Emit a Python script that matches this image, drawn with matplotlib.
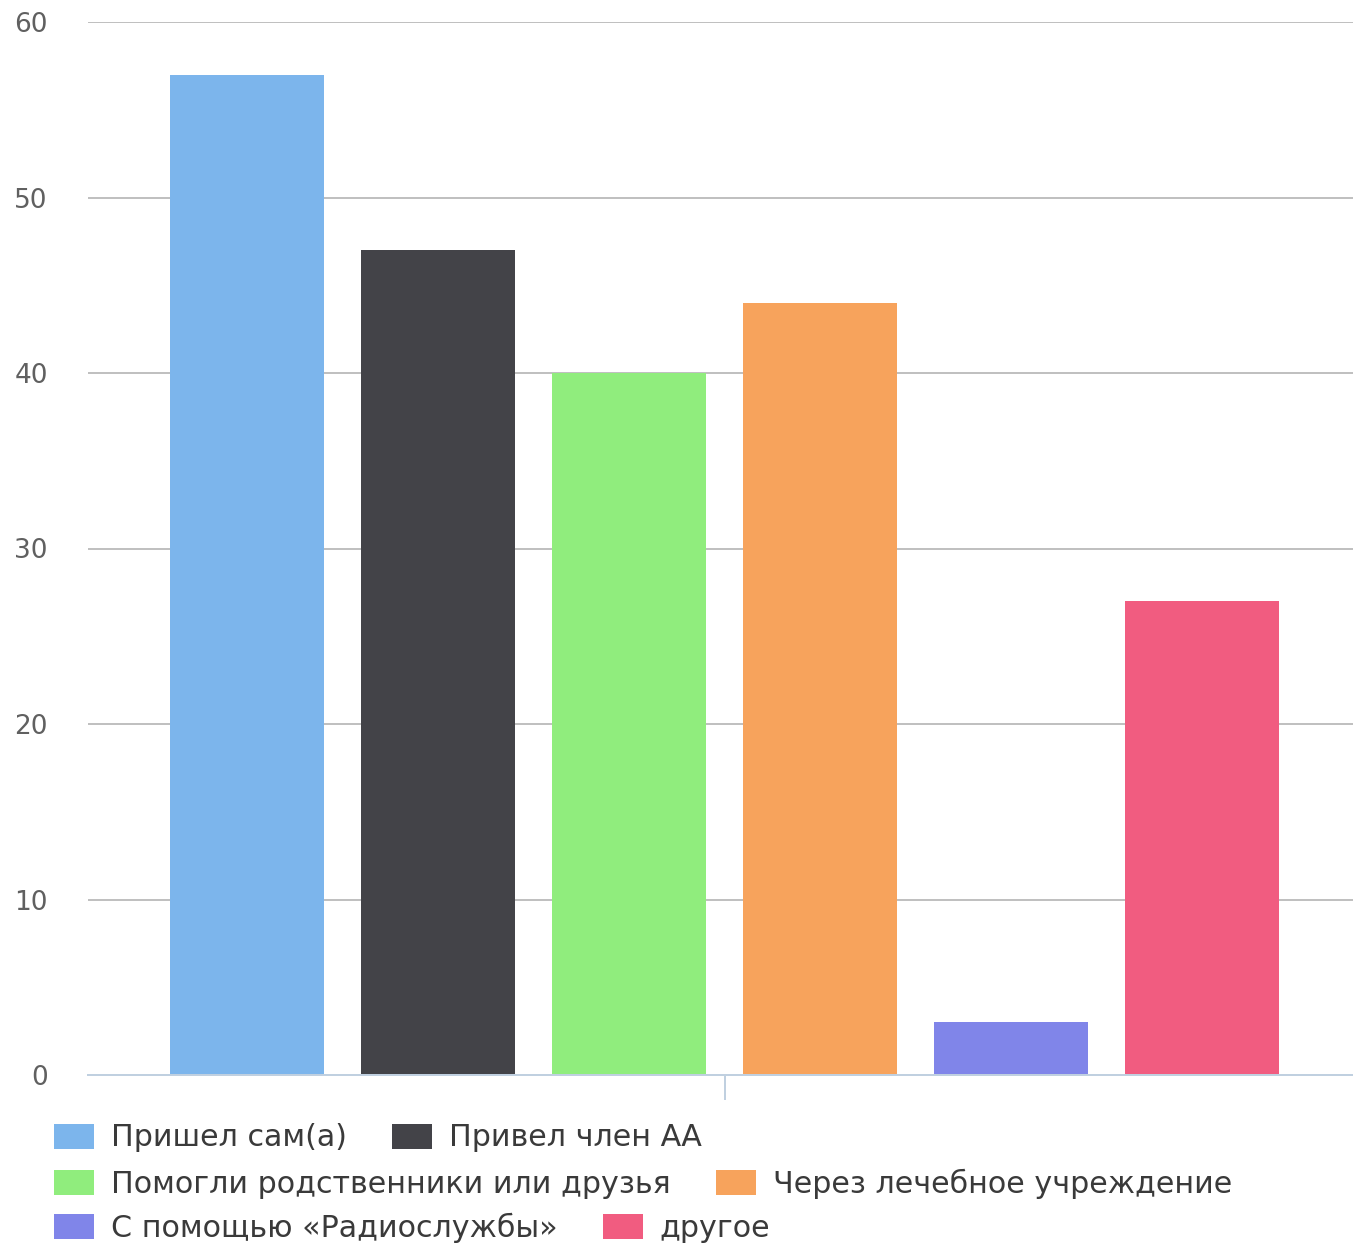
import matplotlib.pyplot as plt

# Data
labels = [
    "Пришел сам(а)",
    "Привел член АА",
    "Помогли родственники или друзья",
    "Через лечебное учреждение",
    "С помощью «Радиослужбы»",
    "другое",
]
values = [57, 47, 40, 44, 3, 27]
colors = ["#7cb5ec", "#434348", "#90ed7d", "#f7a35c", "#8085e9", "#f15c80"]
y_ticks = [0, 10, 20, 30, 40, 50, 60]

W, H = 1353, 1247
plt.rcParams['font.family'] = ['DejaVu Sans']
fig = plt.figure(figsize=(W / 100, H / 100), dpi=100)

# Plot area in pixels: x 88..1353, y 22..1075
ax = fig.add_axes([88 / W, 1 - 1075 / H, (1353 - 88) / W, (1075 - 22) / H])

bars = []
for i, (lab, val, col) in enumerate(zip(labels, values, colors)):
    b = ax.bar(i, val, width=0.806, color=col, linewidth=0, label=lab, zorder=3)
    bars.append(b)

ax.set_xlim(-0.832, 5.79)
ax.set_ylim(0, 60)
ax.set_yticks(y_ticks)
ax.set_yticklabels([str(t) for t in y_ticks])
ax.grid(axis='y', color='#c0c0c0', linewidth=1.44, zorder=0)
ax.tick_params(axis='y', length=0, pad=29, labelsize=19, labelcolor='#606060')
for lbl in ax.get_yticklabels():
    lbl.set_verticalalignment('center_baseline')

# single category tick in the middle of the group
ax.set_xticks([2.5])
ax.set_xticklabels([""])
ax.tick_params(axis='x', length=18, width=1.44, color='#c0d0e0', direction='out')

for side in ['top', 'right', 'left']:
    ax.spines[side].set_visible(False)
ax.spines['bottom'].set_color('#c0d0e0')
ax.spines['bottom'].set_linewidth(1.44)
ax.spines['bottom'].set_zorder(4)

# Legend: three rows of two items
fs = 21.7
fs_px = fs * 100 / 72
row_centers = [1138, 1184, 1228]
for r, yc in enumerate(row_centers):
    handles = [bars[2 * r], bars[2 * r + 1]]
    leg = fig.legend(
        handles=handles,
        labels=labels[2 * r:2 * r + 2],
        loc='center left',
        bbox_to_anchor=(54 / W, 1 - yc / H),
        ncol=2,
        frameon=False,
        fontsize=fs,
        borderpad=0,
        borderaxespad=0,
        handlelength=40 / fs_px,
        handleheight=27 / fs_px,
        handletextpad=17 / fs_px,
        columnspacing=45 / fs_px,
    )
    for t in leg.get_texts():
        t.set_color('#3a3a3a')

fig.savefig("out.png", dpi=100)
